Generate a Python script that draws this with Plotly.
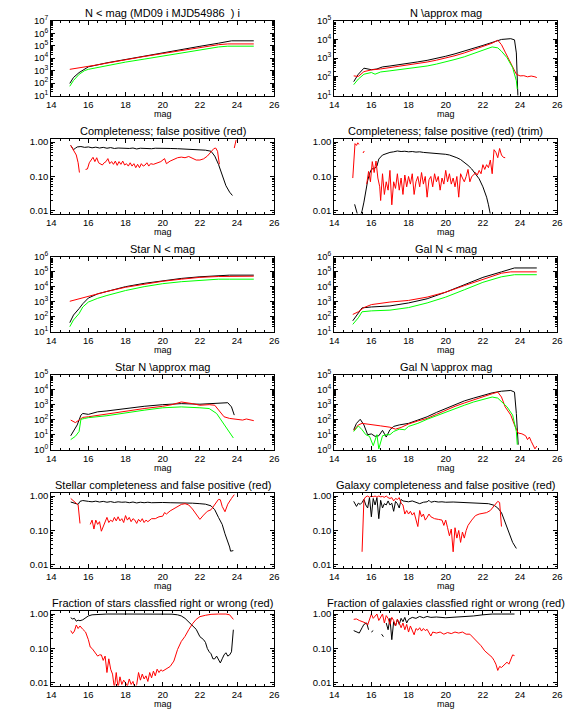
import plotly.graph_objects as go

BLACK = "#000000"
RED = "#ff0000"
GREEN = "#00ff00"
FONT = "Liberation Sans, Arial, DejaVu Sans, sans-serif"

MAG_TICKS = [14, 16, 18, 20, 22, 24, 26]

TITLES = [
    "N &lt; mag (MD09 i MJD54986\u00a0\u00a0) i",
    "N \\approx mag",
    "Completeness; false positive (red)",
    "Completeness; false positive (red) (trim)",
    "Star N &lt; mag",
    "Gal N &lt; mag",
    "Star N \\approx mag",
    "Gal N \\approx mag",
    "Stellar completeness and false positive (red)",
    "Galaxy completeness and false positive (red)",
    "Fraction of stars classfied right or wrong (red)",
    "Fraction of galaxies classfied right or wrong (red)",
]

# ---------------- Panel 1: N < mag ----------------
p1_black = [(15.0, 93), (15.2, 280), (15.5, 690), (15.8, 1260), (16.0, 2000), (17.0, 4200),
            (18.0, 7900), (19.0, 14500), (20.0, 26000), (21.0, 48000), (22.0, 89000),
            (23.0, 158000), (23.7, 245000), (24.9, 245000)]
p1_red = [(15.0, 1260), (15.5, 1620), (16.0, 2140), (16.5, 2900), (17.0, 4000), (18.0, 7600),
          (19.0, 13500), (20.0, 23400), (21.0, 41700), (22.0, 74000), (23.0, 120000),
          (23.5, 138000), (24.9, 138000)]
p1_green = [(15.0, 55), (15.2, 160), (15.5, 500), (15.8, 1000), (16.0, 1260), (17.0, 2500),
            (18.0, 4800), (19.0, 8300), (20.0, 14500), (21.0, 25700), (22.0, 45700),
            (23.0, 79000), (23.5, 91000), (24.9, 91000)]

# ---------------- Panel 2: N ~ mag ----------------
p2_black = [(15.05, 55), (15.3, 138), (15.6, 290), (15.8, 263), (16.0, 240), (16.3, 263),
            (16.6, 339), (17.0, 380), (17.5, 437), (18.0, 525), (18.5, 630), (19.0, 760),
            (19.5, 955), (20.0, 1260), (20.5, 1700), (21.0, 2340), (21.5, 3300), (22.0, 4800),
            (22.5, 6900), (23.0, 10000), (23.5, 11000), (23.7, 9500), (23.8, 1900), (23.9, 3)]
p2_red = [(15.05, 112), (15.3, 105), (15.6, 190), (16.0, 234), (16.5, 263), (17.0, 309),
          (17.5, 363), (18.0, 427), (18.5, 513), (19.0, 617), (19.5, 776), (20.0, 1000),
          (20.5, 1350), (21.0, 1900), (21.5, 2750), (22.0, 4000), (22.5, 6300), (22.8, 9100),
          (23.0, 5250), (23.2, 2100), (23.4, 850), (23.6, 309), (23.8, 138), (24.0, 112),
          (24.2, 115), (24.4, 100), (24.6, 110), (24.8, 100), (24.9, 91)]
p2_green = [(15.05, 38), (15.3, 76), (15.6, 138), (16.0, 170), (16.2, 138), (16.5, 182),
            (17.0, 209), (17.5, 240), (18.0, 275), (18.5, 324), (19.0, 380), (19.5, 479),
            (20.0, 617), (20.5, 851), (21.0, 1175), (21.5, 1780), (22.0, 2630), (22.5, 3980),
            (22.8, 3550), (23.0, 2340), (23.3, 1050), (23.6, 309), (23.8, 62), (23.85, 22)]

# ---------------- Panel 3: completeness ----------------
p3_black = [(15.05, 0.80), (15.2, 0.60), (15.3, 0.66), (15.4, 0.72), (15.6, 0.74), (15.8, 0.70),
            (16.0, 0.72), (16.2, 0.68), (16.4, 0.71), (16.6, 0.67), (16.8, 0.70), (17.0, 0.66),
            (17.2, 0.69), (17.4, 0.65), (17.6, 0.67), (17.8, 0.66), (18.0, 0.68), (18.2, 0.65),
            (18.4, 0.67), (18.6, 0.63), (18.8, 0.66), (19.0, 0.65), (19.2, 0.66), (19.4, 0.64),
            (19.6, 0.66), (19.8, 0.65), (20.0, 0.65), (20.4, 0.65), (20.8, 0.64), (21.2, 0.63),
            (21.6, 0.62), (22.0, 0.60), (22.3, 0.58), (22.6, 0.54), (22.8, 0.39), (23.0, 0.225),
            (23.2, 0.117), (23.4, 0.054), (23.6, 0.035), (23.75, 0.028)]
p3_red = [(15.05, 0.80), (15.15, 0.65), (15.25, 0.55), (15.35, 0.42), (15.45, 0.25), (15.52, 0.13),
          (15.6, None), (15.85, 0.16), (15.95, 0.165), (16.05, 0.25), (16.15, 0.31), (16.25, 0.36),
          (16.35, 0.27), (16.45, 0.35), (16.55, 0.25), (16.65, 0.235), (16.75, 0.215), (16.85, 0.25),
          (16.95, 0.27), (17.05, 0.33), (17.15, 0.235), (17.25, 0.27), (17.35, 0.225), (17.45, 0.28),
          (17.55, 0.21), (17.65, 0.27), (17.75, 0.225), (17.85, 0.28), (17.95, 0.215), (18.05, 0.235),
          (18.15, 0.20), (18.25, 0.25), (18.35, 0.20), (18.45, 0.235), (18.55, 0.18), (18.65, 0.225),
          (18.75, 0.18), (18.85, 0.235), (18.95, 0.20), (19.05, 0.215), (19.15, 0.25), (19.25, 0.20),
          (19.35, 0.235), (19.5, 0.225), (19.7, 0.25), (19.9, 0.27), (20.1, 0.33), (20.2, 0.235),
          (20.4, 0.28), (20.6, 0.31), (20.8, 0.35), (21.0, 0.365), (21.2, 0.35), (21.4, 0.38),
          (21.6, 0.34), (21.8, 0.30), (22.0, 0.30), (22.2, 0.325), (22.4, 0.39), (22.6, 0.50),
          (22.75, 0.645), (22.85, 0.67), (22.95, 0.54), (23.05, 0.225), (23.4, None),
          (23.85, 0.67), (23.95, 1.15)]

# ---------------- Panel 4: completeness (trim) ----------------
p4_black = [(15.1, 0.0155), (15.2, 0.011), (15.28, 0.007), (15.4, 0.007), (15.5, 0.010),
            (15.6, 0.018), (15.7, 0.04), (15.8, 0.075), (15.9, 0.12), (16.0, 0.16), (16.1, 0.17),
            (16.2, 0.175), (16.3, 0.2), (16.4, 0.32), (16.6, 0.42), (16.8, 0.47), (17.0, 0.50),
            (17.2, 0.52), (17.4, 0.55), (17.6, 0.53), (17.8, 0.54), (18.0, 0.52), (18.2, 0.53),
            (18.4, 0.51), (18.6, 0.52), (18.8, 0.50), (19.0, 0.49), (19.2, 0.50), (19.4, 0.48),
            (19.6, 0.47), (19.8, 0.46), (20.0, 0.44), (20.2, 0.42), (20.4, 0.39), (20.6, 0.35),
            (20.8, 0.31), (21.0, 0.26), (21.2, 0.21), (21.4, 0.165), (21.6, 0.12), (21.8, 0.085),
            (22.0, 0.05), (22.2, 0.025), (22.3, 0.015), (22.4, 0.008)]
p4_red = [(15.0, 0.09), (15.08, 0.55), (15.12, 0.9), (15.2, 0.8), (15.27, 0.95), (15.33, 0.85),
          (15.4, None), (15.55, 0.48), (15.62, 0.55), (15.7, None), (15.75, 0.06), (15.85, 0.14),
          (15.95, 0.07), (16.05, 0.27), (16.15, 0.13), (16.25, 0.28), (16.35, 0.09), (16.45, 0.05),
          (16.5, 0.02), (16.6, 0.12), (16.7, 0.03), (16.8, 0.07), (16.9, 0.04), (17.0, 0.15),
          (17.1, 0.015), (17.2, 0.07), (17.3, 0.045), (17.4, 0.12), (17.5, 0.04), (17.6, 0.09),
          (17.7, 0.03), (17.8, 0.11), (17.9, 0.05), (18.0, 0.10), (18.1, 0.06), (18.2, 0.12),
          (18.3, 0.03), (18.4, 0.07), (18.5, 0.10), (18.6, 0.05), (18.7, 0.13), (18.8, 0.06),
          (18.9, 0.10), (19.0, 0.025), (19.1, 0.08), (19.2, 0.10), (19.3, 0.05), (19.4, 0.12),
          (19.5, 0.07), (19.6, 0.10), (19.7, 0.04), (19.8, 0.09), (19.9, 0.06), (20.0, 0.15),
          (20.1, 0.07), (20.2, 0.12), (20.3, 0.06), (20.4, 0.09), (20.5, 0.05), (20.6, 0.10),
          (20.7, 0.025), (20.8, 0.12), (20.9, 0.09), (21.0, 0.07), (21.1, 0.10), (21.2, 0.16),
          (21.3, 0.07), (21.4, 0.10), (21.5, 0.11), (21.6, 0.13), (21.7, 0.11), (21.8, 0.15),
          (21.9, 0.12), (22.0, 0.22), (22.1, 0.16), (22.2, 0.22), (22.3, 0.18), (22.4, 0.30),
          (22.5, 0.12), (22.6, 0.60), (22.7, 0.50), (22.8, 0.35), (22.9, 0.65), (23.0, 0.42),
          (23.1, 0.36), (23.2, 0.35)]

# ---------------- Panel 5: Star N < mag ----------------
p5_black = [(15.0, 39), (15.2, 126), (15.5, 340), (15.7, 720), (16.0, 1740), (16.5, 3300),
            (17.0, 4800), (18.0, 10000), (19.0, 16600), (20.0, 25100), (21.0, 35500),
            (22.0, 45700), (23.0, 53700), (23.6, 58900), (24.9, 58900)]
p5_red = [(15.0, 1050), (16.0, 2340), (17.0, 4800), (18.0, 9100), (19.0, 15100), (20.0, 22900),
          (21.0, 31600), (22.0, 41700), (23.0, 47900), (24.0, 50100), (24.9, 50100)]
p5_green = [(15.0, 21), (15.2, 59), (15.5, 158), (15.7, 437), (16.0, 933), (16.5, 1660),
            (17.0, 2570), (18.0, 5500), (19.0, 10000), (20.0, 15800), (21.0, 21400),
            (22.0, 27500), (23.0, 31600), (23.6, 31600), (24.9, 31600)]

# ---------------- Panel 6: Gal N < mag ----------------
p6_black = [(15.0, 52), (15.3, 158), (15.5, 380), (16.0, 437), (17.0, 513), (18.0, 813),
            (19.0, 1550), (20.0, 4270), (21.0, 13800), (22.0, 41700), (23.0, 97700),
            (23.7, 178000), (24.9, 178000)]
p6_red = [(15.0, 138), (15.3, 209), (15.6, 398), (16.0, 631), (17.0, 933), (18.0, 1200),
          (19.0, 2000), (20.0, 4270), (21.0, 11700), (22.0, 32400), (23.0, 79400),
          (23.5, 97700), (24.9, 97700)]
p6_green = [(15.0, 30), (15.3, 83), (15.5, 209), (16.0, 240), (17.0, 269), (18.0, 398),
            (19.0, 813), (20.0, 2000), (21.0, 6170), (22.0, 19500), (23.0, 45700),
            (23.7, 63100), (24.9, 63100)]

# ---------------- Panel 7: Star N ~ mag ----------------
p7_black = [(15.05, 8.3), (15.4, 44), (15.6, 200), (15.7, 257), (16.0, 224), (16.5, 331),
            (17.0, 380), (18.0, 550), (19.0, 776), (20.0, 1000), (21.0, 1170), (22.0, 1070),
            (22.5, 1170), (23.0, 1290), (23.5, 1350), (23.7, 708), (23.85, 200)]
p7_red = [(15.05, 93), (15.3, 63), (15.5, 93), (15.7, 141), (16.0, 155), (17.0, 234),
          (18.0, 389), (19.0, 550), (20.0, 776), (20.5, 1000), (21.0, 1510), (21.3, 1380),
          (21.6, 1170), (22.0, 912), (22.5, 1000), (22.8, 912), (23.0, 427), (23.3, 155),
          (23.6, 120), (24.0, 105), (24.3, 93), (24.5, 110), (24.7, 93), (24.9, 85)]
p7_green = [(15.05, 4.6), (15.3, 7.6), (15.5, 16), (15.6, 105), (15.8, 120), (16.0, 135),
            (17.0, 182), (18.0, 288), (19.0, 427), (20.0, 617), (21.0, 708), (22.0, 617),
            (22.5, 550), (22.9, 257), (23.2, 72), (23.5, 21), (23.7, 9.8), (23.8, 5.9)]

# ---------------- Panel 8: Gal N ~ mag ----------------
p8_black = [(15.05, 21), (15.2, 56), (15.4, 105), (15.6, 44), (15.8, 9.8), (16.0, 11),
            (16.2, 7.6), (16.4, 8.3), (16.6, 19), (16.8, 6.8), (17.0, 21), (17.2, 35),
            (17.5, 44), (17.8, 49), (18.0, 56), (18.5, 93), (19.0, 155), (19.5, 302),
            (20.0, 550), (20.5, 1000), (21.0, 1780), (21.5, 2750), (22.0, 4170), (22.5, 6170),
            (23.0, 7940), (23.5, 8910), (23.7, 6920), (23.8, 257), (23.9, 2.1)]
p8_red = [(15.05, 19), (15.3, 44), (15.5, 56), (15.8, 51), (16.0, 44), (16.5, 38), (17.0, 31),
          (17.3, 23), (17.6, 30), (18.0, 51), (18.5, 81), (19.0, 120), (19.5, 224), (20.0, 427),
          (20.5, 776), (21.0, 1290), (21.5, 2140), (22.0, 3240), (22.5, 5370), (22.8, 6920),
          (23.0, 3240), (23.2, 708), (23.5, 200), (23.7, 44), (23.9, 12.6), (24.1, 11.2),
          (24.3, 8.3), (24.4, 4.6), (24.5, 6.8), (24.6, 3.5), (24.7, 2.1), (24.8, 1.1), (24.9, 1.7)]
p8_green = [(15.05, 16), (15.3, 38), (15.5, 21), (15.7, 9.8), (15.9, 7.6), (16.1, 1.8),
            (16.3, 9.8), (16.4, 1.1), (16.6, 8.3), (16.8, 9.8), (17.0, 9.8), (17.2, 16),
            (17.5, 23), (17.8, 21), (18.0, 35), (18.5, 56), (19.0, 105), (19.5, 182),
            (20.0, 331), (20.5, 550), (21.0, 912), (21.5, 1510), (22.0, 2290), (22.5, 3240),
            (22.8, 2750), (23.0, 1510), (23.3, 708), (23.6, 200), (23.8, 16), (23.85, 2.1)]

# ---------------- Panel 9: stellar completeness ----------------
p9_black = [(15.05, 0.67), (15.2, 0.65), (15.35, 0.60), (15.45, 0.57), (15.55, 0.70), (15.7, 0.74),
            (15.8, 0.72), (16.0, 0.70), (16.2, 0.68), (16.4, 0.71), (16.6, 0.67), (16.8, 0.70),
            (17.0, 0.66), (17.2, 0.69), (17.4, 0.65), (17.6, 0.68), (17.8, 0.66), (18.0, 0.67),
            (18.2, 0.64), (18.4, 0.67), (18.6, 0.63), (18.8, 0.66), (19.0, 0.64), (19.2, 0.66),
            (19.4, 0.64), (19.6, 0.65), (19.8, 0.64), (20.0, 0.65), (20.4, 0.64), (20.8, 0.64),
            (21.2, 0.63), (21.6, 0.62), (22.0, 0.60), (22.3, 0.58), (22.6, 0.52), (22.8, 0.40),
            (23.0, 0.24), (23.2, 0.15), (23.35, 0.08), (23.5, 0.05), (23.6, 0.033),
            (23.65, 0.025), (23.8, 0.026)]
p9_red = [(15.05, 0.85), (15.15, 0.75), (15.25, 0.68), (15.35, 0.62), (15.45, 0.55), (15.55, 0.16),
          (15.8, None), (16.1, 0.15), (16.2, 0.20), (16.3, 0.11), (16.4, 0.20), (16.5, 0.15),
          (16.6, 0.18), (16.7, 0.095), (16.8, 0.13), (16.9, 0.16), (17.0, 0.24), (17.1, 0.17),
          (17.2, 0.20), (17.3, 0.18), (17.4, 0.24), (17.5, 0.19), (17.6, 0.25), (17.7, 0.19),
          (17.8, 0.22), (17.9, 0.17), (18.0, 0.27), (18.1, 0.20), (18.2, 0.24), (18.3, 0.18),
          (18.4, 0.22), (18.5, 0.20), (18.6, 0.16), (18.7, 0.21), (18.8, 0.18), (18.9, 0.22),
          (19.0, 0.17), (19.1, 0.20), (19.2, 0.18), (19.4, 0.22), (19.6, 0.22), (19.8, 0.25),
          (20.0, 0.26), (20.1, 0.33), (20.2, 0.30), (20.4, 0.37), (20.6, 0.42), (20.8, 0.50),
          (21.0, 0.57), (21.2, 0.60), (21.4, 0.55), (21.6, 0.42), (21.8, 0.30), (22.0, 0.21),
          (22.2, 0.28), (22.4, 0.36), (22.6, 0.40), (22.8, 0.55), (23.0, 0.80), (23.1, 0.78),
          (23.2, 0.50), (23.35, 0.35), (23.5, 0.58), (23.7, 0.85), (23.85, 1.10)]

# ---------------- Panel 10: galaxy completeness ----------------
p10_black = [(15.05, 0.70), (15.2, 0.50), (15.3, 0.62), (15.4, 0.57), (15.5, 0.65), (15.6, 0.80),
             (15.7, 0.55), (15.8, 0.45), (15.9, 0.90), (16.0, 0.25), (16.1, 0.85), (16.2, 0.55),
             (16.3, 0.90), (16.4, 0.22), (16.5, 0.75), (16.6, 0.45), (16.7, 0.60), (16.8, 0.55),
             (16.9, 0.72), (17.0, 0.55), (17.1, 0.62), (17.2, 0.36), (17.3, 0.70), (17.4, 0.60),
             (17.5, 0.45), (17.6, 0.80), (17.7, 0.72), (17.8, 0.70), (18.0, 0.68), (18.2, 0.72),
             (18.4, 0.65), (18.6, 0.60), (18.8, 0.66), (19.0, 0.68), (19.1, 0.75), (19.2, 0.66),
             (19.4, 0.70), (19.6, 0.67), (19.8, 0.68), (20.0, 0.66), (20.4, 0.67), (20.8, 0.65),
             (21.2, 0.64), (21.6, 0.63), (22.0, 0.61), (22.3, 0.60), (22.6, 0.54), (22.8, 0.45),
             (23.0, 0.33), (23.2, 0.17), (23.4, 0.085), (23.6, 0.045), (23.8, 0.030)]
p10_red = [(15.5, 0.024), (15.55, 0.30), (15.6, 0.80), (15.7, 0.95), (15.8, 1.0), (15.9, 0.92),
           (16.0, 1.0), (16.1, 0.95), (16.2, 1.0), (16.3, 0.93), (16.4, 1.0), (16.5, 0.95),
           (16.6, 0.97), (16.7, 0.92), (16.8, 1.0), (16.9, 0.90), (17.0, 0.85), (17.1, 0.90),
           (17.2, 0.72), (17.3, 0.85), (17.4, 0.80), (17.5, 0.90), (17.6, 0.62), (17.7, 0.55),
           (17.8, 0.30), (17.9, 0.38), (18.0, 0.30), (18.1, 0.36), (18.2, 0.28), (18.3, 0.33),
           (18.4, 0.22), (18.5, 0.13), (18.6, 0.38), (18.7, 0.25), (18.8, 0.30), (18.9, 0.20),
           (19.0, 0.24), (19.1, 0.30), (19.2, 0.25), (19.4, 0.22), (19.6, 0.21), (19.8, 0.20),
           (19.9, 0.14), (20.0, 0.20), (20.1, 0.12), (20.2, 0.07), (20.3, 0.11), (20.4, 0.024),
           (20.5, 0.12), (20.6, 0.06), (20.7, 0.10), (20.8, 0.045), (20.9, 0.09), (21.0, 0.06),
           (21.1, 0.10), (21.2, 0.14), (21.4, 0.20), (21.6, 0.27), (21.8, 0.30), (22.0, 0.31),
           (22.2, 0.33), (22.4, 0.38), (22.6, 0.50), (22.8, 0.70), (22.9, 0.65), (23.0, 0.13)]

# ---------------- Panel 11: fraction of stars ----------------
p11_black = [(15.05, 0.78), (15.15, 0.72), (15.25, 0.75), (15.35, 0.62), (15.45, 0.66),
             (15.55, 0.64), (15.7, 0.68), (15.85, 0.78), (16.0, 0.88), (16.2, 0.95), (16.5, 0.98),
             (17.0, 1.0), (18.0, 1.0), (19.0, 1.0), (20.0, 1.0), (20.5, 0.99), (20.8, 0.95),
             (21.0, 0.88), (21.2, 0.75), (21.4, 0.60), (21.6, 0.48), (21.8, 0.36), (22.0, 0.22),
             (22.2, 0.18), (22.3, 0.15), (22.4, 0.10), (22.5, 0.08), (22.6, 0.07), (22.7, 0.05),
             (22.8, 0.05), (22.9, 0.06), (23.0, 0.045), (23.1, 0.038), (23.2, 0.05), (23.3, 0.065),
             (23.4, 0.075), (23.5, 0.06), (23.6, 0.065), (23.7, 0.08), (23.8, 0.35)]
p11_red = [(15.05, 0.33), (15.15, 0.27), (15.25, 0.32), (15.35, 0.48), (15.45, 0.38), (15.55, 0.45),
           (15.7, 0.36), (15.85, 0.30), (16.0, 0.18), (16.1, 0.11), (16.2, 0.10), (16.35, 0.075),
           (16.5, 0.06), (16.6, 0.065), (16.7, 0.065), (16.8, 0.045), (16.9, 0.06), (17.0, 0.02),
           (17.1, 0.05), (17.2, 0.025), (17.3, 0.018), (17.4, 0.007), (17.5, 0.02), (17.6, 0.007),
           (17.7, 0.015), (17.8, 0.009), (17.9, 0.012), (18.0, 0.010), (18.1, 0.008), (18.2, 0.013),
           (18.3, 0.009), (18.4, 0.011), (18.5, 0.007), (18.6, 0.009), (18.7, 0.020), (18.8, 0.012),
           (18.9, 0.018), (19.0, 0.013), (19.1, 0.016), (19.2, 0.011), (19.3, 0.020), (19.4, 0.014),
           (19.5, 0.022), (19.6, 0.016), (19.7, 0.025), (19.8, 0.020), (19.9, 0.024), (20.0, 0.022),
           (20.2, 0.025), (20.4, 0.030), (20.6, 0.043), (20.8, 0.094), (21.0, 0.16), (21.2, 0.225),
           (21.4, 0.35), (21.6, 0.52), (21.8, 0.70), (22.0, 0.84), (22.3, 0.92), (22.6, 0.98),
           (23.0, 1.0), (23.4, 1.0), (23.6, 0.95), (23.8, 0.70)]

# ---------------- Panel 12: fraction of galaxies ----------------
p12_black = [(15.05, 0.33), (15.2, 0.30), (15.35, 0.28), (15.5, 0.40), (15.6, 0.50), (15.75, 0.55),
             (15.85, 0.35), (15.9, None), (16.0, 0.30), (16.1, 0.33), (16.3, None), (16.55, 0.26),
             (16.65, 0.22), (16.72, None), (16.8, 0.55), (16.9, 0.35), (17.0, 0.75), (17.1, 0.18),
             (17.2, 0.60), (17.3, 0.45), (17.4, 0.70), (17.5, 0.50), (17.6, 0.75), (17.7, 0.60),
             (17.8, 0.80), (17.9, 0.55), (18.0, 0.70), (18.2, 0.80), (18.4, 0.75), (18.6, 0.85),
             (18.8, 0.78), (19.0, 0.85), (19.2, 0.80), (19.5, 0.82), (20.0, 0.78), (20.5, 0.80),
             (21.0, 0.82), (21.5, 0.88), (22.0, 0.95), (22.5, 1.0), (23.0, 1.0), (23.5, 0.97),
             (23.7, 1.0)]
p12_red = [(15.05, 0.70), (15.2, 0.72), (15.35, 0.65), (15.5, 0.60), (15.6, 0.58), (15.7, 0.55),
           (15.8, 0.48), (15.9, 0.75), (16.0, 1.0), (16.1, 0.75), (16.2, 0.90), (16.3, 1.0),
           (16.4, 0.65), (16.5, 0.85), (16.6, 1.0), (16.7, 0.55), (16.8, 0.90), (16.9, 0.75),
           (17.0, 0.50), (17.1, 0.80), (17.2, 0.65), (17.3, 0.45), (17.4, 0.70), (17.5, 0.55),
           (17.6, 0.40), (17.7, 0.55), (17.8, 0.35), (17.9, 0.50), (18.0, 0.30), (18.1, 0.45),
           (18.2, 0.35), (18.3, 0.25), (18.4, 0.38), (18.5, 0.34), (18.6, 0.40), (18.7, 0.32),
           (18.8, 0.38), (18.9, 0.33), (19.0, 0.36), (19.1, 0.29), (19.2, 0.23), (19.3, 0.30),
           (19.5, 0.28), (19.7, 0.30), (19.9, 0.26), (20.1, 0.29), (20.3, 0.27), (20.5, 0.30),
           (20.7, 0.28), (20.9, 0.30), (21.1, 0.26), (21.3, 0.26), (21.5, 0.20), (21.7, 0.16),
           (21.9, 0.12), (22.1, 0.085), (22.3, 0.07), (22.5, 0.055), (22.6, 0.045), (22.7, 0.035),
           (22.8, 0.023), (22.9, 0.030), (23.0, 0.028), (23.2, 0.035), (23.3, 0.040), (23.4, 0.035),
           (23.5, 0.050), (23.6, 0.065), (23.7, 0.062)]

PANEL_SERIES = [
    [(p1_black, BLACK), (p1_red, RED), (p1_green, GREEN)],
    [(p2_black, BLACK), (p2_red, RED), (p2_green, GREEN)],
    [(p3_black, BLACK), (p3_red, RED)],
    [(p4_black, BLACK), (p4_red, RED)],
    [(p5_black, BLACK), (p5_red, RED), (p5_green, GREEN)],
    [(p6_black, BLACK), (p6_red, RED), (p6_green, GREEN)],
    [(p7_black, BLACK), (p7_red, RED), (p7_green, GREEN)],
    [(p8_black, BLACK), (p8_red, RED), (p8_green, GREEN)],
    [(p9_black, BLACK), (p9_red, RED)],
    [(p10_black, BLACK), (p10_red, RED)],
    [(p11_black, BLACK), (p11_red, RED)],
    [(p12_black, BLACK), (p12_red, RED)],
]

FRAC = "frac"
Y_DECADES = [(1, 7), (1, 5), FRAC, FRAC, (1, 6), (1, 6), (0, 5), (0, 5), FRAC, FRAC, FRAC, FRAC]
FRAC_RANGE = [-2.076, 0.095]
FRAC_TICKS = [0.01, 0.1, 1.0]
FRAC_LABELS = ["0.01", "0.10", "1.00"]

W, H = 576, 720
COL_X = [(47, 274), (335, 562)]
ROW_TOP, ROW_BOTTOM, ROW_STEP = 14, 90, 120

fig = go.Figure()
layout = dict(
    width=W, height=H, margin=dict(l=0, r=0, t=0, b=0, pad=0),
    paper_bgcolor="white", plot_bgcolor="white", showlegend=False,
    font=dict(family=FONT, color="black", size=9),
)
annotations = []

for i in range(12):
    row, col = divmod(i, 2)
    n = i + 1
    xname = "xaxis" if n == 1 else f"xaxis{n}"
    yname = "yaxis" if n == 1 else f"yaxis{n}"
    xref = "x" if n == 1 else f"x{n}"
    yref = "y" if n == 1 else f"y{n}"
    x0, x1 = COL_X[col]
    top = ROW_TOP + ROW_STEP * row
    bot = ROW_BOTTOM + ROW_STEP * row
    layout[xname] = dict(
        domain=[x0 / W, x1 / W], anchor=yref, range=[14, 26],
        tickmode="array", tickvals=MAG_TICKS, ticktext=[str(t) for t in MAG_TICKS],
        ticks="inside", ticklen=4, tickwidth=1, tickcolor="black",
        showline=True, linecolor="black", linewidth=1, mirror="ticks",
        showgrid=False, zeroline=False, tickfont=dict(size=9.5),
        minor=dict(ticks="inside", ticklen=2, tickmode="linear", tick0=14, dtick=0.5,
                   tickcolor="black", showgrid=False),
    )
    dec = Y_DECADES[i]
    if dec == FRAC:
        yr = FRAC_RANGE
        tv = FRAC_TICKS
        tt = FRAC_LABELS
    else:
        yr = [dec[0], dec[1]]
        tv = [10 ** e for e in range(dec[0], dec[1] + 1)]
        tt = [f"10<sup>{e}</sup>" for e in range(dec[0], dec[1] + 1)]
    layout[yname] = dict(
        domain=[(H - bot) / H, (H - top) / H], anchor=xref, type="log", range=yr,
        tickmode="array", tickvals=tv, ticktext=tt,
        ticks="inside", ticklen=4, tickwidth=1, tickcolor="black",
        showline=True, linecolor="black", linewidth=1, mirror="ticks",
        showgrid=False, zeroline=False, tickfont=dict(size=9.5),
        minor=dict(ticks="inside", ticklen=2, tickmode="linear", dtick="D1",
                   tickcolor="black", showgrid=False),
    )
    for series, color in PANEL_SERIES[i]:
        xs = [p[0] for p in series]
        ys = [p[1] for p in series]
        fig.add_trace(go.Scatter(x=xs, y=ys, mode="lines", xaxis=xref, yaxis=yref,
                                 line=dict(color=color, width=1), connectgaps=False,
                                 hoverinfo="skip"))
    cx = (x0 + x1) / 2 / W
    annotations.append(dict(text=TITLES[i], x=cx, y=1 - (6 + ROW_STEP * row) / H,
                            xref="paper", yref="paper", xanchor="center", yanchor="middle",
                            showarrow=False, font=dict(size=11, family=FONT, color="black")))
    annotations.append(dict(text="mag", x=cx, y=1 - (109 + ROW_STEP * row) / H,
                            xref="paper", yref="paper", xanchor="center", yanchor="middle",
                            showarrow=False, font=dict(size=9, family=FONT, color="black")))

layout["annotations"] = annotations
fig.update_layout(**layout)
fig.write_html("out.html", config={"displayModeBar": False, "staticPlot": True},
               post_script="document.body.style.margin='0px';")
